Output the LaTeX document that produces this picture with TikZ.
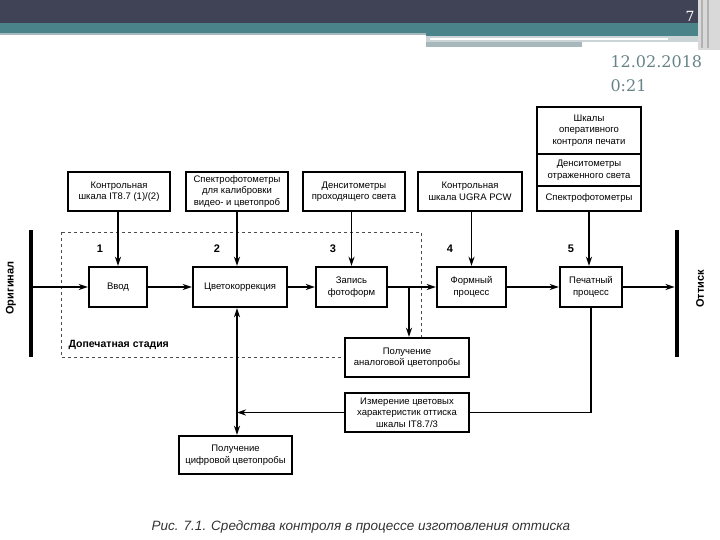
\documentclass[tikz,border=0pt]{standalone}
\usepackage{fontspec}
\setmainfont{Liberation Sans}
\newfontfamily\datefont{DejaVu Serif}
\usetikzlibrary{positioning,arrows.meta}
\definecolor{hdrdark}{HTML}{3F4355}
\definecolor{hdrteal}{HTML}{4A8389}
\definecolor{hdrgray}{HTML}{A7B8BC}
\definecolor{datecol}{HTML}{678388}

\begin{document}
\begin{tikzpicture}[x=1pt, y=-1pt, >={Stealth[length=9pt,width=6pt]},
    box/.style={draw, line width=2.4pt, fill=white, inner sep=1pt, align=center,
      font=\fontsize{9.5}{11.5}\selectfont},
    flow/.style={->, line width=1.8pt},
    bar/.style={fill=black, inner sep=0pt, minimum width=4.5pt, minimum height=127pt},
    num/.style={font=\fontsize{11}{11}\selectfont\bfseries},
    side/.style={rotate=90, font=\fontsize{11}{11}\selectfont\bfseries}]
  \useasboundingbox (0,0) rectangle (720,540);
  % slide header
  \fill[hdrdark] (0,0) rectangle (720,23);
  \fill[hdrteal] (0,23) rectangle (720,33);
  \fill[hdrgray] (0,33) rectangle (426,35);
  \fill[hdrteal] (426,33) rectangle (700,36);
  \fill[hdrgray!60] (426,36) rectangle (700,42);
  \fill[white] (430,38) rectangle (668,40);
  \fill[hdrgray] (426,42) rectangle (582,47);
  \fill[gray!30] (698,0) rectangle (720,50);
  \fill[gray!60] (701,0) rectangle (703,48);
  \fill[gray!60] (707,0) rectangle (709,48);
  \node[text=white, font=\datefont\fontsize{14}{14}\selectfont] (PAGE) at (690,16) {7};
  \node[anchor=west, text=datecol, font=\datefont\fontsize{16}{16}\selectfont] (DATE) at (607,62) {12.02.2018};
  \node[anchor=west, text=datecol, font=\datefont\fontsize{16}{16}\selectfont] (TIME) at (607,86) {0:21};

  % prepress stage
  \draw[dashed, line width=0.8pt, black!70] (61,232) rectangle (421,357);
  \node[anchor=west, font=\fontsize{10.5}{11}\selectfont\bfseries] (STAGE) at (65,345) {Допечатная стадия};

  % original and print
  \node[bar] (ORIG) at (31,293.5) {};
  \node[bar] (PRINT) at (677,293.5) {};
  \node[side] (ORIGL) at (11,288) {Оригинал};
  \node[side] (PRINTL) at (700,289) {Оттиск};

  % control tools
  \node[box, minimum width=102pt, minimum height=39pt] (IT) at (119,191.5) {Контрольная\\шкала IT8.7 (1)/(2)};
  \node[box, minimum width=102pt, minimum height=39pt] (SPEC) at (237,191.5) {Спектрофотометры\\для калибровки\\видео- и цветопроб};
  \node[box, minimum width=102pt, minimum height=39pt] (DENS) at (354,191.5) {Денситометры\\проходящего света};
  \node[box, minimum width=104pt, minimum height=39pt] (UGRA) at (470,191.5) {Контрольная\\шкала UGRA PCW};
  \node[box, outer sep=0pt, minimum width=104pt, minimum height=47pt] (SCALE) at (589,130.5) {Шкалы\\оперативного\\контроля печати};
  \node[box, outer sep=0pt, minimum width=104pt, minimum height=32pt, below=0pt of SCALE] (REFL) {Денситометры\\отраженного света};
  \node[box, outer sep=0pt, minimum width=104pt, minimum height=25pt, below=0pt of REFL] (SPEC2) {Спектрофотометры};

  % process steps
  \node[box, minimum width=58pt, minimum height=40pt] (VVOD) at (118,287) {Ввод};
  \node[box, minimum width=94pt, minimum height=40pt] (CK) at (240,287) {Цветокоррекция};
  \node[box, minimum width=71pt, minimum height=40pt] (ZAP) at (351.5,287) {Запись\\фотоформ};
  \node[box, minimum width=69pt, minimum height=40pt] (FORM) at (471.5,287) {Формный\\процесс};
  \node[box, minimum width=62pt, minimum height=40pt] (PECH) at (591,287) {Печатный\\процесс};
  \node[box, minimum width=124pt, minimum height=39pt] (ANALOG) at (407,357.5) {Получение\\аналоговой цветопробы};
  \node[box, minimum width=124pt, minimum height=39pt] (IZM) at (407,412.5) {Измерение цветовых\\характеристик оттиска\\шкалы IT8.7/3};
  \node[box, minimum width=113pt, minimum height=38pt] (DIG) at (235.5,455) {Получение\\цифровой цветопробы};

  \node[num] (N1) at (100,249) {1};
  \node[num] (N2) at (217,249) {2};
  \node[num] (N3) at (333,249) {3};
  \node[num] (N4) at (450,249) {4};
  \node[num] (N5) at (571,249) {5};

  % connectors
  \coordinate (BR) at (409,287);
  \coordinate (J) at (237,412.5);
  \draw[flow] (ORIG.east |- VVOD.west) -- (VVOD.west);
  \draw[flow] (VVOD) -- (CK);
  \draw[flow] (CK) -- (ZAP);
  \draw[flow] (ZAP) -- (FORM);
  \draw[flow] (FORM) -- (PECH);
  \draw[flow] (PECH) -- (PRINT.west |- PECH.east);
  \draw[flow] (IT.south -| VVOD.north) -- (VVOD.north);
  \draw[flow] (SPEC.south) -- (SPEC.south |- CK.north);
  \draw[flow] (ZAP.north |- DENS.south) -- (ZAP.north);
  \draw[flow] (UGRA.south -| FORM.north) -- (FORM.north);
  \draw[flow] ([yshift=1.2pt]SPEC2.south) -- (SPEC2.south |- PECH.north);
  \draw[flow] (BR) -- (BR |- ANALOG.north);
  \draw[line width=1.8pt] (PECH.south) |- (IZM.east);
  \draw[flow] (IZM.west) -- (J);
  \draw[flow] (J) -- (J |- CK.south);
  \draw[flow] (J) -- (J |- DIG.north);

  \node[font=\itshape\fontsize{13.5}{14}\selectfont, text=black!80] (CAP) at (361,527) {Рис. 7.1. Средства контроля в процессе изготовления оттиска};
\end{tikzpicture}
\end{document}
